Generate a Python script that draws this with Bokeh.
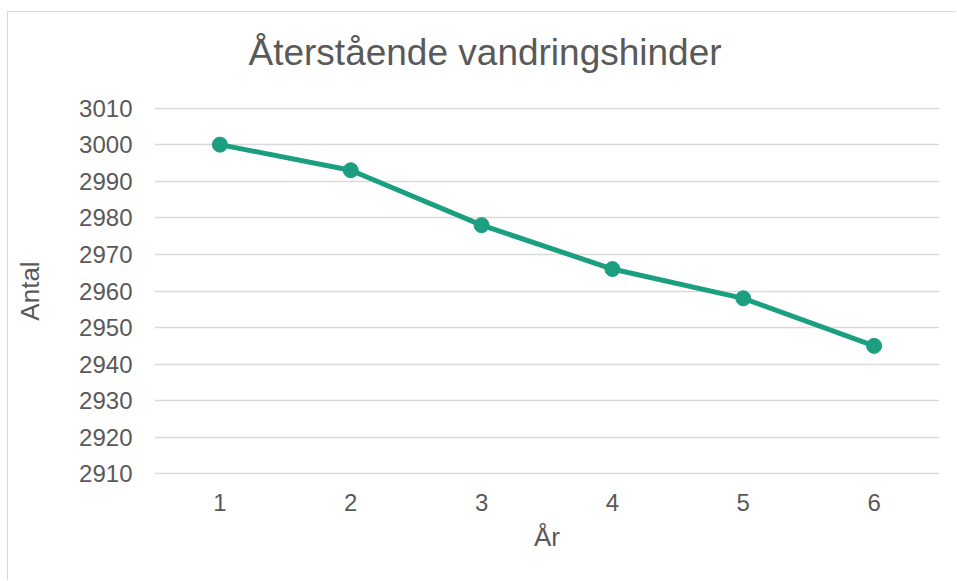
from bokeh.plotting import figure
from bokeh.models import FixedTicker, Range1d, ColumnDataSource
from bokeh.embed import file_html
from bokeh.resources import INLINE

# Data
years = [1, 2, 3, 4, 5, 6]
antal = [3000, 2993, 2978, 2966, 2958, 2945]
y_ticks = [2910, 2920, 2930, 2940, 2950, 2960, 2970, 2980, 2990, 3000, 3010]
title_text = "Återstående vandringshinder"
x_label = "År"
y_label = "Antal"

LINE = "#1c9e80"
TEXT = "#595959"
GRID = "#d9d9d9"
FONT = "Liberation Sans"

src = ColumnDataSource(dict(x=years, y=antal))

p = figure(width=949, height=589, output_backend="svg", toolbar_location=None,
           x_range=Range1d(years[0] - 0.5, years[-1] + 0.5),
           y_range=Range1d(y_ticks[0] - 0.15, y_ticks[-1] + 0.15),
           title=title_text)
# chart-area border (left and top edges visible in the window), drawn behind a transparent canvas
p.styles = {
    "margin-left": "7px",
    "margin-top": "-9px",
    "background": ("linear-gradient(#d9d9d9, #d9d9d9) 0px 20px / 100% 1px no-repeat, "
                   "linear-gradient(#d9d9d9, #d9d9d9) 0px 20px / 1px 100% no-repeat"),
}
p.min_border_left = 147
p.min_border_right = 17
p.min_border_top = 116
p.min_border_bottom = 106
p.outline_line_color = None
p.background_fill_color = "white"
p.border_fill_color = None

p.title.align = "left"
p.title.offset = 94
p.title.standoff = 70
p.title.text_font = FONT
p.title.text_font_size = "37px"
p.title.text_font_style = "normal"
p.title.text_color = TEXT

p.line("x", "y", source=src, line_color=LINE, line_width=5)
p.scatter("x", "y", source=src, size=15, fill_color=LINE, line_color=LINE)

p.xaxis.ticker = FixedTicker(ticks=years)
p.yaxis.ticker = FixedTicker(ticks=y_ticks)
p.xgrid.grid_line_color = None
p.ygrid.grid_line_color = GRID
p.ygrid.grid_line_width = 1.5

for ax in (p.xaxis[0], p.yaxis[0]):
    ax.axis_line_color = None
    ax.major_tick_line_color = None
    ax.minor_tick_line_color = None
    ax.major_tick_out = 0
    ax.major_tick_in = 0
    ax.major_label_text_font = FONT
    ax.major_label_text_font_size = "24px"
    ax.major_label_text_color = TEXT
    ax.axis_label_text_font = FONT
    ax.axis_label_text_font_size = "26px"
    ax.axis_label_text_font_style = "normal"
    ax.axis_label_text_color = TEXT

p.xaxis.axis_label = x_label
p.yaxis.axis_label = y_label
p.yaxis.major_label_standoff = 22
p.yaxis.axis_label_standoff = 31
p.xaxis.major_label_standoff = 19
p.xaxis.axis_label_standoff = 8

open("out.html", "w").write(file_html(p, INLINE))
